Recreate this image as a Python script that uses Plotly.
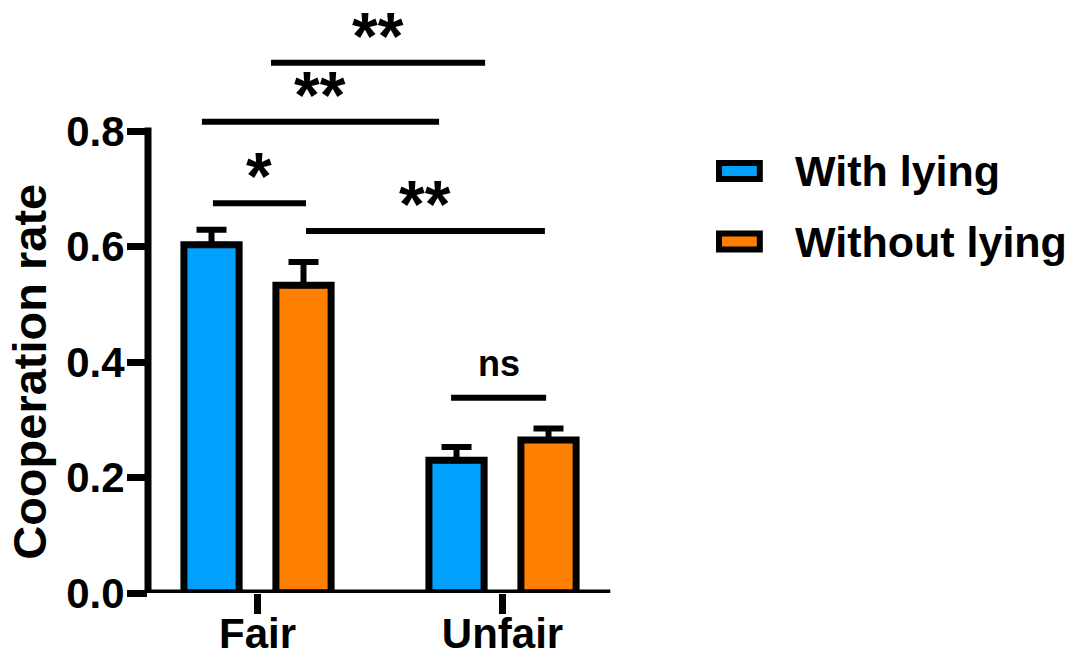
import plotly.graph_objects as go

# ---- data ----
groups = ["Fair", "Unfair"]
series_names = ["With lying", "Without lying"]
with_lying = [0.603, 0.230]
without_lying = [0.533, 0.265]
with_lying_err = [0.026, 0.023]
without_lying_err = [0.040, 0.020]
y_ticks = [0.0, 0.2, 0.4, 0.6, 0.8]
y_tick_labels = ["0.0", "0.2", "0.4", "0.6", "0.8"]

# significance comparisons (label, x-start, x-end, bracket height) in data units
sig_labels = ["**", "**", "*", "**", "ns"]
sig_x0 = [0.055, -0.227, -0.182, 0.198, 0.790]
sig_x1 = [0.929, 0.741, 0.198, 1.173, 1.178]
sig_y = [0.918, 0.816, 0.675, 0.627, 0.338]

colors = ["#00A0FF", "#FF7F00"]
FONT = "Arial, 'Liberation Sans', Helvetica, sans-serif"

fig = go.Figure()
for name, vals, errs, col in zip(series_names, [with_lying, without_lying],
                                 [with_lying_err, without_lying_err], colors):
    fig.add_trace(go.Bar(
        x=groups, y=vals, name=name,
        marker=dict(color=col, line=dict(color="black", width=7)),
        error_y=dict(type="data", array=errs, arrayminus=[0] * len(errs),
                     symmetric=False, color="black", thickness=6, width=15),
        showlegend=False,
    ))

W, H = 1075, 659
ML, MB, MT = 148, 66, 0
plot_w = W - ML
plot_h = H - MB - MT
px_per_cat = 245.0
px_per_unit = 577.5
x_left = -0.447
x_right = x_left + plot_w / px_per_cat
y_top = plot_h / px_per_unit

shapes = []
annotations = []
# axis lines (GraphPad style: y axis stops at last tick)
shapes.append(dict(type="line", xref="paper", yref="y", x0=0, x1=0,
                   y0=-0.006, y1=0.806, line=dict(color="black", width=7)))
shapes.append(dict(type="line", xref="x", yref="y", x0=x_left - 0.014, x1=1.44,
                   y0=0, y1=0, line=dict(color="black", width=7)))

# significance brackets
for lab, a, b, yy in zip(sig_labels, sig_x0, sig_x1, sig_y):
    shapes.append(dict(type="line", xref="x", yref="y", x0=a, x1=b, y0=yy, y1=yy,
                       line=dict(color="black", width=6)))
    is_star = "*" in lab
    annotations.append(dict(
        x=(a + b) / 2, y=yy, xref="x", yref="y", text=lab, showarrow=False,
        yanchor="bottom", yshift=(-12 if is_star else 12),
        font=dict(family=FONT, size=(66 if is_star else 36), color="black", weight="bold"),
    ))

# custom legend (rectangular swatches with thick outline)
leg_y = [0.7116, 0.5927]
for name, col, ly in zip(series_names, colors, leg_y):
    shapes.append(dict(type="rect", xref="paper", yref="paper",
                       x0=0.616, x1=0.660, y0=ly - 0.0135, y1=ly + 0.0135,
                       fillcolor=col, line=dict(color="black", width=6)))
    annotations.append(dict(x=0.6958, y=ly, xref="paper", yref="paper", text=name,
                            showarrow=False, xanchor="left", yanchor="middle",
                            font=dict(family=FONT, size=43, color="black", weight="bold")))

# y-axis title
annotations.append(dict(x=-0.1273, y=0.383, xref="paper", yref="y", text="Cooperation rate",
                        showarrow=False, textangle=-90, xanchor="center", yanchor="middle",
                        font=dict(family=FONT, size=47, color="black", weight="bold")))

fig.update_layout(
    width=W, height=H,
    margin=dict(l=ML, r=0, t=MT, b=MB, pad=0),
    paper_bgcolor="white", plot_bgcolor="white",
    barmode="group", bargap=0.249, bargroupgap=0.4,
    showlegend=False,
    shapes=shapes, annotations=annotations,
    xaxis=dict(range=[x_left, x_right], showgrid=False, zeroline=False, showline=False,
               automargin=False,
               ticks="outside", ticklen=20, tickwidth=7, tickcolor="black",
               ticklabelstandoff=-16,
               tickfont=dict(family=FONT, size=42, color="black", weight="bold")),
    yaxis=dict(range=[0, y_top], showgrid=False, zeroline=False, showline=False,
               automargin=False,
               tickvals=y_ticks, ticktext=y_tick_labels,
               ticks="outside", ticklen=20, tickwidth=7, tickcolor="black",
               ticklabelstandoff=-6,
               tickfont=dict(family=FONT, size=42, color="black", weight="bold")),
)

fig.write_html(
    "out.html",
    config={"displayModeBar": False},
    post_script="document.body.style.margin='0';"
                "document.documentElement.style.overflow='hidden';",
)
